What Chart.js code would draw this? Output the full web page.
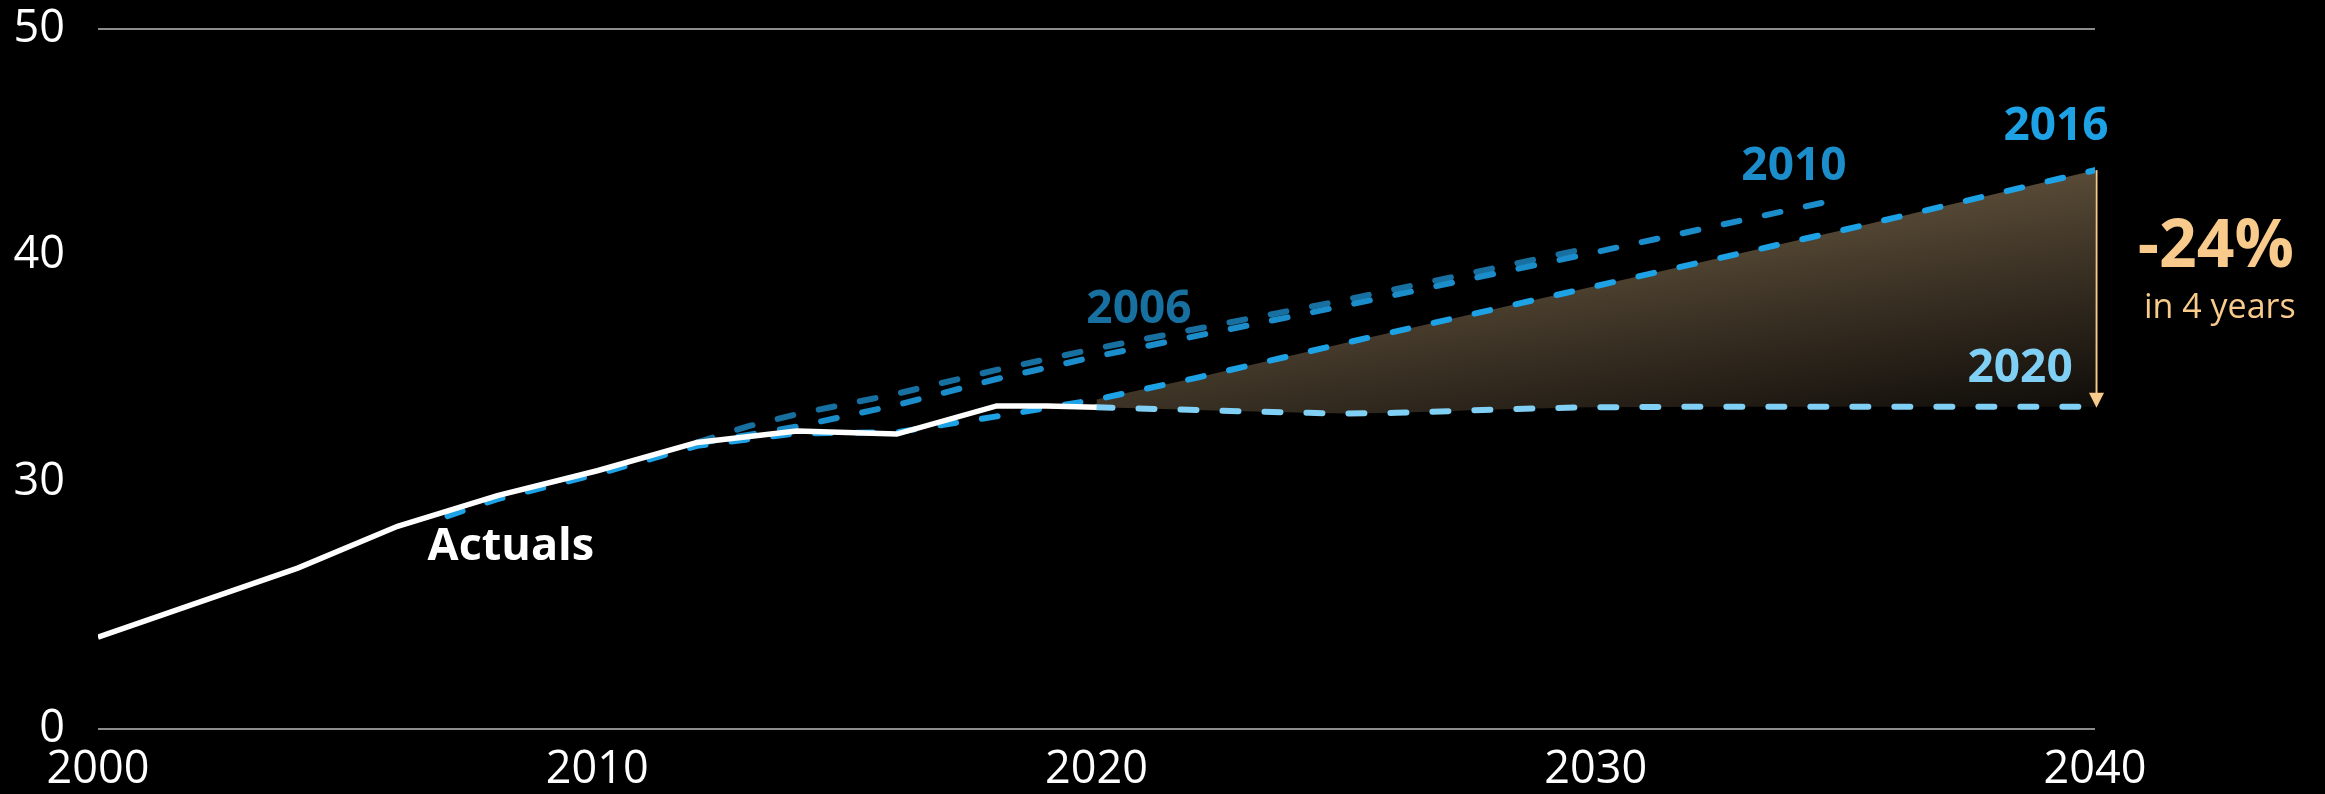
<!DOCTYPE html>
<html>
<head>
<meta charset="utf-8">
<script src="https://cdn.jsdelivr.net/npm/chart.js@4/dist/chart.umd.min.js"></script>
<style>
  html, body { margin: 0; padding: 0; background: #000; }
  canvas { display: block; }
</style>
</head>
<body>
<canvas id="chart" width="2325" height="794"></canvas>
<script>
// Actual values
const actualYears  = [2000, 2004, 2006, 2008, 2010, 2012, 2014, 2016, 2018, 2019, 2020];
const actualValues = [23.15, 26.2, 28.05, 29.4, 30.5, 31.75, 32.25, 32.12, 33.36, 33.36, 33.3];

// Forecast made in 2006
const f2006Years  = [2012, 2013, 2014, 2016, 2018, 2020, 2025, 2030];
const f2006Values = [31.75, 32.45, 33.0, 33.9, 34.95, 35.9, 38.05, 40.4];

// Forecast made in 2010
const f2010Years  = [2012, 2014, 2016, 2018, 2020, 2025, 2030, 2035];
const f2010Values = [31.7, 32.45, 33.4, 34.55, 35.55, 37.8, 40.15, 42.55];

// Forecast made in 2016
const f2016Years  = [2007, 2008, 2010, 2012, 2014, 2016, 2018, 2020, 2022, 2025, 2030, 2035, 2040];
const f2016Values = [28.5, 29.25, 30.35, 31.6, 32.15, 32.2, 32.9, 33.65, 34.6, 36.15, 38.65, 41.15, 43.77];

// Forecast made in 2020
const f2020Years  = [2020, 2022, 2024, 2025, 2026, 2028, 2030, 2035, 2040];
const f2020Values = [33.3, 33.18, 33.07, 33.03, 33.06, 33.2, 33.3, 33.33, 33.33];

// Axis ticks
const xTicks = [2000, 2010, 2020, 2030, 2040];
const yTicks = [30, 40, 50];
const yAxisFloor = 19.1;      // the value axis is broken; its floor carries the label "0"
const yFloorLabel = '0';

const COLORS = {
  actual: '#ffffff',
  f2006: '#17709f',
  f2010: '#1b8dcb',
  f2016: '#1ea2e6',
  f2020: '#80d0f5',
  accent: '#f8ca8b',
  grid: '#8c8c8c'
};

const FONT = "'Open Sans', 'DejaVu Sans', sans-serif";
Chart.defaults.font.family = FONT;

const toPoints = (xs, ys) => xs.map((x, i) => ({ x, y: ys[i] }));

// Upper edge of the shaded gap: the 2016 forecast from 2020 on
const gapPoints = toPoints(f2016Years, f2016Values).filter(p => p.x >= 2020);

// Text annotations placed in data space (baseline position)
const textLabels = [
  { text: 'Actuals',    x: 2008.27, y: 26.56, color: COLORS.actual, size: 45, weight: 'bold' },
  { text: '2006',       x: 2020.85, y: 37.02, color: COLORS.f2006,  size: 46, weight: 'bold' },
  { text: '2010',       x: 2033.97, y: 43.33, color: COLORS.f2010,  size: 46, weight: 'bold' },
  { text: '2016',       x: 2039.22, y: 45.10, color: COLORS.f2016,  size: 46, weight: 'bold' },
  { text: '2020',       x: 2038.50, y: 34.42, color: COLORS.f2020,  size: 46, weight: 'bold' },
  { text: '-24%',       x: 2042.42, y: 39.51, color: COLORS.accent, size: 66, weight: 'bold' },
  { text: 'in 4 years', x: 2042.50, y: 37.23, color: COLORS.accent, size: 34, weight: 'normal' }
];

function gapGradient(context) {
  const chart = context.chart;
  const { chartArea, scales } = chart;
  if (!chartArea || !scales.x) return 'rgba(70,58,43,0.9)';
  const x0 = scales.x.getPixelForValue(2040);
  const y0 = scales.y.getPixelForValue(f2016Values[f2016Values.length - 1]);
  const y1 = scales.y.getPixelForValue(f2020Values[f2020Values.length - 1]);
  const g = chart.ctx.createLinearGradient(x0, y0, x0 + 0.15 * (y1 - y0), y1);
  g.addColorStop(0, 'rgb(88,74,54)');
  g.addColorStop(0.5, 'rgb(50,42,31)');
  g.addColorStop(1, 'rgb(14,11,8)');
  return g;
}

const dashed = (color) => ({
  borderColor: color,
  borderWidth: 6,
  borderDash: [16, 26],
  borderCapStyle: 'round',
  pointRadius: 0,
  fill: false,
  tension: 0
});

const annotationPlugin = {
  id: 'annotations',
  afterDatasetsDraw(chart) {
    const { ctx, scales: { x, y } } = chart;
    ctx.save();
    // Arrow from the 2016 to the 2020 forecast at the horizon
    const ax = x.getPixelForValue(2040) + 1.5;
    const yTop = y.getPixelForValue(f2016Values[f2016Values.length - 1]);
    const yTip = y.getPixelForValue(f2020Values[f2020Values.length - 1]) + 1;
    ctx.strokeStyle = COLORS.accent;
    ctx.fillStyle = COLORS.accent;
    ctx.lineWidth = 2;
    ctx.beginPath();
    ctx.moveTo(ax, yTop);
    ctx.lineTo(ax, yTip - 12);
    ctx.stroke();
    ctx.beginPath();
    ctx.moveTo(ax - 7.5, yTip - 15);
    ctx.lineTo(ax + 7.5, yTip - 15);
    ctx.lineTo(ax, yTip);
    ctx.closePath();
    ctx.fill();

    ctx.textAlign = 'center';
    ctx.textBaseline = 'alphabetic';
    textLabels.forEach(l => {
      ctx.font = `${l.weight} ${l.size}px ${FONT}`;
      ctx.fillStyle = l.color;
      ctx.fillText(l.text, x.getPixelForValue(l.x), y.getPixelForValue(l.y));
    });
    ctx.restore();
  }
};

new Chart(document.getElementById('chart'), {
  type: 'line',
  data: {
    datasets: [
      { label: 'Actuals', data: toPoints(actualYears, actualValues),
        borderColor: COLORS.actual, borderWidth: 5.5, pointRadius: 0, fill: false, tension: 0 },
      { label: '2016', data: toPoints(f2016Years, f2016Values), ...dashed(COLORS.f2016) },
      { label: '2010', data: toPoints(f2010Years, f2010Values), ...dashed(COLORS.f2010) },
      { label: '2006', data: toPoints(f2006Years, f2006Values), ...dashed(COLORS.f2006) },
      { label: '2020', data: toPoints(f2020Years, f2020Values), ...dashed(COLORS.f2020),
        cubicInterpolationMode: 'monotone' },
      { label: 'gap', data: gapPoints, borderColor: 'transparent', borderWidth: 1,
        pointRadius: 0, tension: 0, fill: { target: 4 }, backgroundColor: gapGradient }
    ]
  },
  options: {
    responsive: false,
    animation: false,
    devicePixelRatio: 1,
    layout: { padding: { top: 29, right: 230, bottom: 0, left: 0 } },
    plugins: {
      legend: { display: false },
      tooltip: { enabled: false },
      filler: { drawTime: 'beforeDatasetsDraw' }
    },
    scales: {
      x: {
        type: 'linear',
        min: 2000,
        max: 2040,
        afterBuildTicks: s => { s.ticks = xTicks.map(v => ({ value: v })); },
        afterFit: s => { s.height = 65; s.paddingLeft = 0; s.paddingRight = 0; },
        ticks: { color: '#ffffff', font: { size: 45 }, padding: 14, maxRotation: 0,
                 autoSkip: false, callback: v => String(v) },
        grid: { display: false, drawTicks: false },
        border: { display: false }
      },
      y: {
        type: 'linear',
        min: yAxisFloor,
        max: 50,
        afterBuildTicks: s => { s.ticks = [yAxisFloor, ...yTicks].map(v => ({ value: v })); },
        afterFit: s => { s.width = 98; s.paddingTop = 0; s.paddingBottom = 0; },
        ticks: { color: '#ffffff', font: { size: 45 }, padding: 33, autoSkip: false,
                 callback: v => (v === yAxisFloor ? yFloorLabel : String(v)) },
        grid: {
          drawTicks: false,
          lineWidth: 2,
          color: c => (c.tick && (c.tick.value === 50 || c.tick.value === yAxisFloor)) ? COLORS.grid : 'transparent'
        },
        border: { display: false }
      }
    }
  },
  plugins: [annotationPlugin]
});
</script>
</body>
</html>
